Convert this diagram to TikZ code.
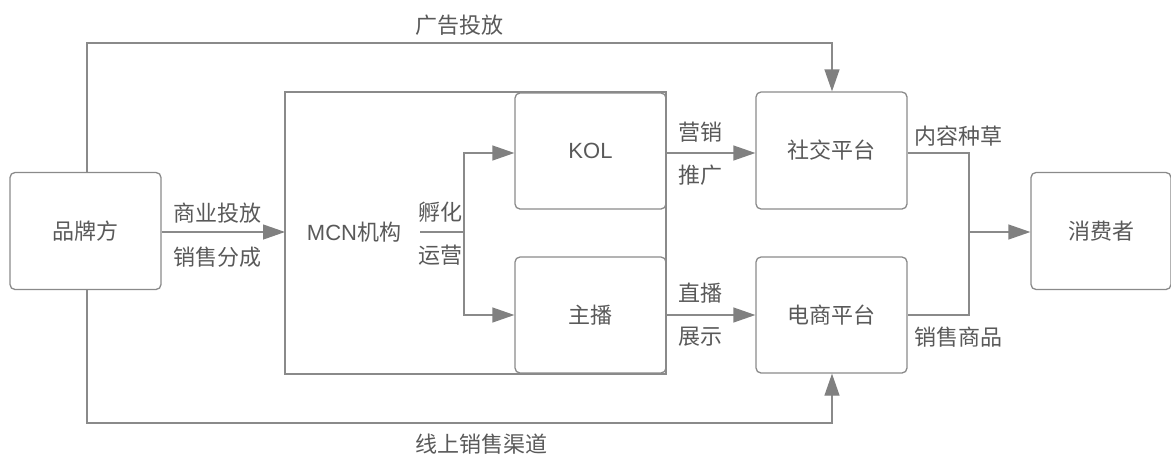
\documentclass[tikz,border=0pt]{standalone}
\usepackage{fontspec}
\setmainfont{Noto Sans CJK SC}
\newfontfamily\lat{Liberation Sans}
\usetikzlibrary{arrows.meta}
\definecolor{ln}{HTML}{8A8A8A}
\definecolor{tx}{HTML}{595959}
\definecolor{ah}{HTML}{808080}
\begin{document}
\begin{tikzpicture}[x=1pt,y=-1pt,
  every node/.style={text=tx,font=\fontsize{22}{26}\selectfont},
  rbox/.style={draw=ln,line width=1.3pt,rounded corners=5pt,inner sep=0pt},
  conn/.style={draw=ln,line width=1.3pt},
  arr/.style={conn,-{Triangle[length=22pt,width=15pt,fill=ah,color=ah]}},
  lbl/.style={inner sep=0pt}]
\useasboundingbox (0,0) rectangle (1171,456);
% boxes
\node[rbox,minimum width=151pt,minimum height=117pt] (brand) at (85.5,231) {品牌方};
\draw[conn] (285,92) rectangle (666,374);
\node[lbl] (mcn) at (354,232) {{\lat MCN}机构};
\node[rbox,minimum width=151pt,minimum height=116pt] (kol) at (590.5,151) {\lat KOL};
\node[rbox,minimum width=151pt,minimum height=116pt] (zb) at (590.5,315) {主播};
\node[rbox,minimum width=151pt,minimum height=117pt] (soc) at (831.5,150.5) {社交平台};
\node[rbox,minimum width=151pt,minimum height=116pt] (ec) at (831.5,315) {电商平台};
\node[rbox,minimum width=140pt,minimum height=117pt] (cons) at (1101,231) {消费者};
% brand -> MCN
\coordinate (mcnL) at (285,232);
\draw[arr] (brand.east |- 0,232) -- (mcnL);
\node[lbl] at (217,213) {商业投放};
\node[lbl] at (217,257) {销售分成};
% incubation
\coordinate (s1) at (420,232);
\coordinate (j1) at (464,232);
\draw[conn] (s1) -- (j1);
\draw[arr] (j1) |- (kol.west |- 0,153);
\draw[arr] (j1) |- (zb.west);
\node[lbl] at (440,212) {孵化};
\node[lbl] at (440,255) {运营};
% KOL -> social, anchor -> ec
\draw[arr] (kol.east |- 0,153) -- (soc.west |- 0,153);
\node[lbl] at (700,132) {营销};
\node[lbl] at (700,175) {推广};
\draw[arr] (zb.east) -- (ec.west);
\node[lbl] at (700,293) {直播};
\node[lbl] at (700,337) {展示};
% platforms -> consumer
\coordinate (m1) at (969,153);
\coordinate (m2) at (969,315);
\coordinate (m3) at (969,232);
\draw[conn] (soc.east |- 0,153) -- (m1) -- (m2) -- (ec.east);
\draw[arr] (m3) -- (cons.west |- m3);
\node[lbl] at (958,136) {内容种草};
\node[lbl] at (958,337) {销售商品};
% top and bottom routes
\coordinate (t1) at (87,43);
\coordinate (t2) at (832,43);
\draw[arr] (brand.north -| t1) -- (t1) -- (t2) -- (soc.north -| t2);
\node[lbl] at (459,25) {广告投放};
\coordinate (b1) at (87,423);
\coordinate (b2) at (832,423);
\draw[arr] (brand.south -| b1) -- (b1) -- (b2) -- (ec.south -| b2);
\node[lbl] at (481,444) {线上销售渠道};
\end{tikzpicture}
\end{document}
